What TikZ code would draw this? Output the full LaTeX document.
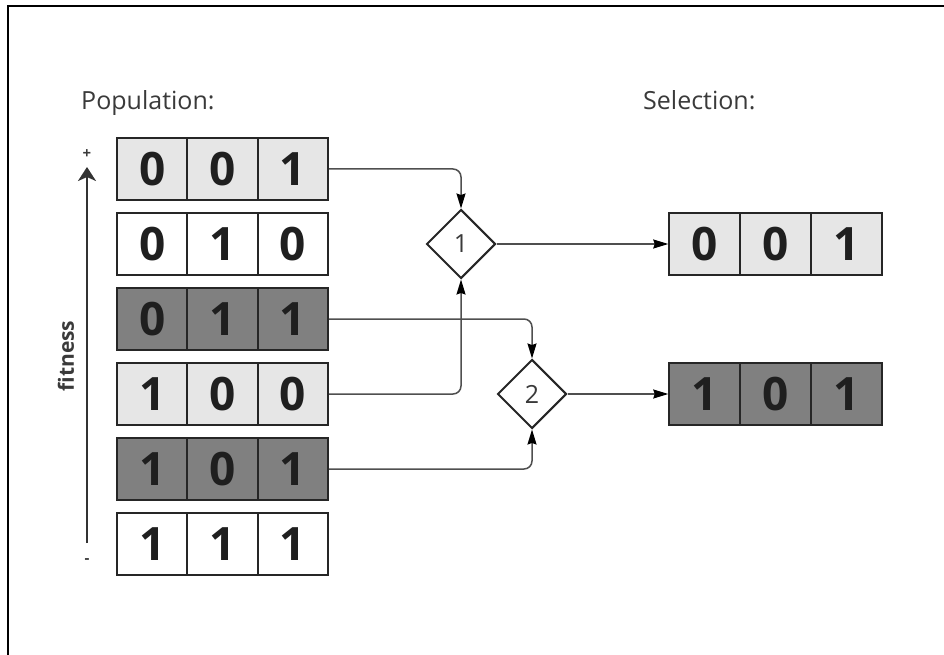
\documentclass[tikz,border=0pt]{standalone}
\usepackage{fontspec}
\setmainfont{Open Sans}
\usetikzlibrary{shapes.geometric,arrows.meta}
\definecolor{lightcell}{HTML}{E6E6E6}
\definecolor{darkcell}{HTML}{808080}
\definecolor{edgecol}{HTML}{262626}
\definecolor{wirecol}{HTML}{4F4F4F}
\definecolor{txtcol}{HTML}{3A3A3A}
\tikzset{
  cell/.style={draw=edgecol, line width=2.2pt, minimum width=70.3pt, minimum height=62pt,
    inner sep=0pt, font=\fontsize{46}{46}\selectfont\bfseries, text=black!88},
  lightc/.style={cell, fill=lightcell},
  darkc/.style={cell, fill=darkcell},
  whitec/.style={cell, fill=white},
  selbox/.style={draw=edgecol, line width=2pt, diamond, minimum width=69pt, minimum height=69pt,
    inner sep=0pt, fill=white, font=\fontsize{25}{25}\selectfont, text=txtcol},
  wire/.style={draw=wirecol, line width=1.5pt, rounded corners=8pt,
    -{Stealth[length=15pt, width=9pt, inset=1.5pt, color=black]}},
  heading/.style={font=\fontsize{25}{25}\selectfont, text=txtcol, anchor=base west, inner sep=0pt},
  sign/.style={font=\fontsize{15}{15}\selectfont\bfseries, text=txtcol, inner sep=0pt},
}
\begin{document}
\begin{tikzpicture}[x=1pt, y=-1pt]
\useasboundingbox (0,0) rectangle (944,655);
% frame (top and left edges)
\draw[line width=2.5pt, black] (8,655) -- (8,6) -- (944,6);

% headings
\node[heading] (hpop) at (81,110) {Population:};
\node[heading] (hsel) at (643,110) {Selection:};

% population rows
\node[lightc] (p1a) at (152.2,169) {0};
\node[lightc] (p1b) at (222.5,169) {0};
\node[lightc] (p1c) at (292.8,169) {1};

\node[whitec] (p2a) at (152.2,244) {0};
\node[whitec] (p2b) at (222.5,244) {1};
\node[whitec] (p2c) at (292.8,244) {0};

\node[darkc] (p3a) at (152.2,319) {0};
\node[darkc] (p3b) at (222.5,319) {1};
\node[darkc] (p3c) at (292.8,319) {1};

\node[lightc] (p4a) at (152.2,394) {1};
\node[lightc] (p4b) at (222.5,394) {0};
\node[lightc] (p4c) at (292.8,394) {0};

\node[darkc] (p5a) at (152.2,469) {1};
\node[darkc] (p5b) at (222.5,469) {0};
\node[darkc] (p5c) at (292.8,469) {1};

\node[whitec] (p6a) at (152.2,544) {1};
\node[whitec] (p6b) at (222.5,544) {1};
\node[whitec] (p6c) at (292.8,544) {1};

% fitness axis
\coordinate (fbot) at (87,543);
\coordinate (ftop) at (87,167);
\draw[line width=2.4pt, draw=black!80, -{Stealth[length=14pt, width=18pt, inset=4pt]}] (fbot) -- (ftop);
\node[sign] (plus) at (87,154) {+};
\node[sign] (minus) at (87,561) {-};
\node[font=\fontsize{21}{21}\selectfont\bfseries, text=txtcol, rotate=90] (fit) at (66,356) {fitness};

% tournaments
\node[selbox] (d1) at (461,244) {1};
\node[selbox] (d2) at (532,394) {2};

% selected individuals
\node[lightc] (s1a) at (704.5,244) {0};
\node[lightc] (s1b) at (775.5,244) {0};
\node[lightc] (s1c) at (846.5,244) {1};

\node[darkc] (s2a) at (704.5,394) {1};
\node[darkc] (s2b) at (775.5,394) {0};
\node[darkc] (s2c) at (846.5,394) {1};

% connectors
\draw[wire] (p1c.east) -| (d1.north);
\draw[wire] (p4c.east) -| (d1.south);
\draw[wire] (p3c.east) -| (d2.north);
\draw[wire] (p5c.east) -| (d2.south);
\draw[wire] (d1.east) -- (s1a.west);
\draw[wire] (d2.east) -- (s2a.west);
\end{tikzpicture}
\end{document}
